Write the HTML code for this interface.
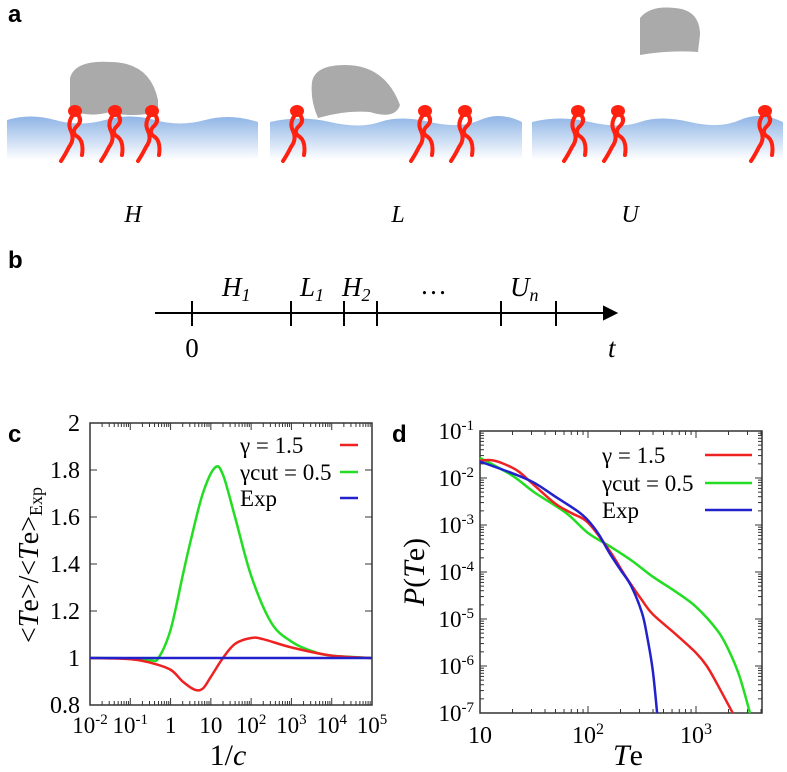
<!DOCTYPE html>
<html><head><meta charset="utf-8"><style>
body{margin:0;background:#fff;}
svg{display:block;font-family:"Liberation Serif",serif;}
.lab{font-family:"Liberation Sans",sans-serif;font-weight:bold;font-size:24px;}
</style></head><body>
<svg id="fig" width="787" height="772" viewBox="0 0 787 772">
<defs>
<linearGradient id="mem" x1="0" y1="0" x2="0" y2="1">
<stop offset="0" stop-color="#8fb5e6"/><stop offset="1" stop-color="#ffffff"/></linearGradient>
</defs>
<text class="lab" x="8" y="22">a</text>
<g>
<path d="M7,120 Q30,113 55,120 T105,120 T155,120 T205,120 T258,122 L258,160 L7,160Z" fill="url(#mem)"/>
<path d="M70,78 Q75,60 110,62 Q150,62 158,100 L158,112 Q130,118 110,112 Q90,118 70,110Z" fill="#aaa"/>
</g>
<g>
<path d="M270,122 Q300,115 330,122 T380,122 T430,122 T480,120 T522,122 L522,160 L270,160Z" fill="url(#mem)"/>
<path d="M312,82 Q315,65 345,65 Q385,65 400,105 Q395,120 370,112 Q345,110 318,118 Q310,100 312,82Z" fill="#aaa"/>
</g>
<g>
<path d="M532,122 Q560,115 590,122 T640,122 T690,122 T740,120 T783,122 L783,160 L532,160Z" fill="url(#mem)"/>
<path d="M640,18 Q650,5 675,8 Q700,10 700,35 L698,52 Q670,50 640,55Z" fill="#aaa"/>
</g>
<g id="lipids" fill="none" stroke="#f21" stroke-width="4" stroke-linecap="round"></g>
<text x="133" y="222" font-size="24" font-style="italic" text-anchor="middle">H</text>
<text x="398" y="222" font-size="24" font-style="italic" text-anchor="middle">L</text>
<text x="630" y="222" font-size="24" font-style="italic" text-anchor="middle">U</text>

<text class="lab" x="8" y="268">b</text>
<g stroke="#000" stroke-width="2">
<line x1="155" y1="313" x2="608" y2="313"/>
<polygon points="616,313 604,307 604,319" fill="#000"/>
<line x1="192" y1="301" x2="192" y2="326"/><line x1="291" y1="301" x2="291" y2="326"/>
<line x1="344" y1="301" x2="344" y2="326"/><line x1="377" y1="301" x2="377" y2="326"/>
<line x1="501" y1="301" x2="501" y2="326"/><line x1="556" y1="301" x2="556" y2="326"/>
</g>
<g font-size="27" font-style="italic">
<text x="222" y="296">H<tspan font-size="18" dy="5">1</tspan></text>
<text x="300" y="296">L<tspan font-size="18" dy="5">1</tspan></text>
<text x="342" y="296">H<tspan font-size="18" dy="5">2</tspan></text>
<text x="420" y="294" font-style="normal">…</text>
<text x="510" y="296">U<tspan font-size="18" dy="5">n</tspan></text>
<text x="192" y="357" font-style="normal" text-anchor="middle">0</text>
<text x="608" y="357">t</text>
</g>
<text class="lab" x="8" y="442">c</text>
<text class="lab" x="392" y="442">d</text>
<g id="pc"></g>
<g id="pd"></g>
</svg>
<script>
// Panel c data (x = log10(1/c))
const cGreenX=[-2,-1,-0.5,-0.3,0,0.3,0.5,0.8,1.1,1.3,1.6,2,2.5,3,3.5,4,5];
const cGreenY=[1,0.998,0.99,1.0,1.12,1.35,1.5,1.7,1.81,1.78,1.6,1.35,1.15,1.07,1.03,1.01,1.0];
const cRedX=[-2,-1,-0.5,0,0.3,0.6,0.8,1,1.3,1.6,2,2.3,3,4,5];
const cRedY=[1,0.995,0.98,0.95,0.9,0.865,0.87,0.92,1.0,1.06,1.085,1.08,1.045,1.01,1.0];
const cExpX=[-2,5];
const cExpY=[1,1];
const cYTicks=[0.8,1,1.2,1.4,1.6,1.8,2];
const cYTickLabels=["0.8","1","1.2","1.4","1.6","1.8","2"];
const cXTicks=[-2,-1,0,1,2,3,4,5];
// Panel d data (log10 Te, log10 P)
const dRedX=[1,1.1,1.2,1.35,1.5,1.7,1.85,2.0,2.2,2.35,2.5,2.6,2.8,3.0,3.1,3.2,3.34];
const dRedY=[-1.63,-1.62,-1.68,-1.85,-2.15,-2.55,-2.75,-2.95,-3.55,-4.1,-4.6,-4.9,-5.3,-5.72,-6.0,-6.4,-7];
const dGreenX=[1,1.3,1.5,1.8,2.0,2.2,2.4,2.6,2.8,3.0,3.2,3.3,3.4,3.5];
const dGreenY=[-1.57,-1.95,-2.3,-2.75,-3.17,-3.45,-3.75,-4.1,-4.4,-4.74,-5.25,-5.65,-6.2,-7];
const dBlueX=[1,1.3,1.5,1.7,1.9,2.0,2.1,2.2,2.3,2.4,2.5,2.55,2.6,2.64];
const dBlueY=[-1.65,-1.9,-2.1,-2.4,-2.7,-2.9,-3.2,-3.6,-3.95,-4.3,-4.87,-5.4,-6.1,-7];
const dYTicks=[-1,-2,-3,-4,-5,-6,-7];
const dXTicks=[1,2,3];

const NS="http://www.w3.org/2000/svg";
function mk(parent,tag,attrs,text){const e=document.createElementNS(NS,tag);for(const k in attrs)e.setAttribute(k,attrs[k]);if(text!==undefined)e.textContent=text;parent.appendChild(e);return e;}

// lipids
const LP=document.getElementById('lipids');
[75,115,152,297,425,465,578,618,765].forEach(function(x){
  const g=mk(LP,'g',{});
  
  
  mk(g,'ellipse',{cx:x,cy:111,rx:7,ry:6,fill:'#f21',stroke:'none'});
  mk(g,'path',{d:`M${x-2},115 q-6,8 -2,16 q4,8 -2,16 q-4,8 -8,14`});
  mk(g,'path',{d:`M${x+3},115 q5,6 -2,12 q-5,6 2,10 q6,5 4,18`});
});

function axes(g,L,R,T,B){
  mk(g,'rect',{x:L,y:T,width:R-L,height:B-T,fill:'none',stroke:'#333','stroke-width':1.5});
}
function smooth(pts){
  let d='M'+pts[0][0]+','+pts[0][1];
  for(let i=0;i<pts.length-1;i++){
    const p0=pts[i-1]||pts[i],p1=pts[i],p2=pts[i+1],p3=pts[i+2]||p2;
    const c1=[p1[0]+(p2[0]-p0[0])/6,p1[1]+(p2[1]-p0[1])/6];
    const c2=[p2[0]-(p3[0]-p1[0])/6,p2[1]-(p3[1]-p1[1])/6];
    d+=` C${c1[0]},${c1[1]} ${c2[0]},${c2[1]} ${p2[0]},${p2[1]}`;
  }
  return d;
}
function poly(g,xs,ys,fx,fy,color,name){
  const p=mk(g,'path',{d:smooth(xs.map((x,i)=>[fx(x),fy(ys[i])])),fill:'none',stroke:color,'stroke-width':2.5,'stroke-linejoin':'round'});
  
  
}
// chart c
(function(){
  const g=document.getElementById('pc');
  const L=90,R=372,T=423,B=705;
  const fx=v=>L+(v+2)/7*(R-L), fy=v=>B-(v-0.8)/1.2*(B-T);
  axes(g,L,R,T,B);
  cYTicks.forEach((t,i)=>{
    mk(g,'line',{x1:L,y1:fy(t),x2:L+7,y2:fy(t),stroke:'#333'});
    mk(g,'line',{x1:R,y1:fy(t),x2:R-7,y2:fy(t),stroke:'#333'});
    const tx=mk(g,'text',{x:L-10,y:fy(t)+8,'font-size':24,'text-anchor':'end'},cYTickLabels[i]);
    
    
  });
  cXTicks.forEach(t=>{
    mk(g,'line',{x1:fx(t),y1:B,x2:fx(t),y2:B-7,stroke:'#333'});
    mk(g,'line',{x1:fx(t),y1:T,x2:fx(t),y2:T+7,stroke:'#333'});
    for(let k=2;k<10&&t<5;k++){const x=fx(t+Math.log10(k));mk(g,'line',{x1:x,y1:B,x2:x,y2:B-4,stroke:'#333'});mk(g,'line',{x1:x,y1:T,x2:x,y2:T+4,stroke:'#333'});}
    const tx=mk(g,'text',{x:fx(t),y:B+28,'font-size':23,'text-anchor':'middle'});
    if(t===0)tx.textContent='1';else if(t===1)tx.textContent='10';else{tx.textContent='10';mk(tx,'tspan',{dy:-9,'font-size':15},String(t));}
    
    
  });
  poly(g,cGreenX,cGreenY,fx,fy,'#2d2','series-gamma-cut');
  poly(g,cRedX,cRedY,fx,fy,'#e22','series-gamma');
  poly(g,cExpX,cExpY,fx,fy,'#22c','series-exp');
  const t1=mk(g,'text',{x:228,y:765,'font-size':30,'text-anchor':'middle'},'1/');
  mk(t1,'tspan',{'font-style':'italic'},'c');
  
  
  const t2=mk(g,'text',{transform:'translate(38,565) rotate(-90)','font-size':28,'text-anchor':'middle'},'<');
  mk(t2,'tspan',{'font-style':'italic'},'T');mk(t2,'tspan',{},'e>/<');mk(t2,'tspan',{'font-style':'italic'},'T');mk(t2,'tspan',{},'e>');mk(t2,'tspan',{'font-size':18,dy:4},'Exp');
  
  
  [['γ = 1.5','#e22',445],['γcut = 0.5','#2d2',472],['Exp','#22c',498]].forEach(r=>{
    const e=mk(g,'text',{x:240,y:r[2]+8,'font-size':23},r[0]);
    
    
    mk(g,'line',{x1:340,y1:r[2],x2:358,y2:r[2],stroke:r[1],'stroke-width':2.5});
  });
})();
// chart d
(function(){
  const g=document.getElementById('pd');
  const L=480,R=762,T=431,B=713;
  const fx=v=>L+(v-1)*108, fy=v=>T+(-1-v)*47;
  axes(g,L,R,T,B);
  dYTicks.forEach(t=>{
    mk(g,'line',{x1:L,y1:fy(t),x2:L+7,y2:fy(t),stroke:'#333'});
    mk(g,'line',{x1:R,y1:fy(t),x2:R-7,y2:fy(t),stroke:'#333'});
    for(let k=2;k<10&&t>-7;k++){const y=fy(t-1+Math.log10(k));mk(g,'line',{x1:L,y1:y,x2:L+4,y2:y,stroke:'#333'});mk(g,'line',{x1:R,y1:y,x2:R-4,y2:y,stroke:'#333'});}
    const tx=mk(g,'text',{x:L-6,y:fy(t)+8,'font-size':23,'text-anchor':'end'},'10');
    mk(tx,'tspan',{dy:-9,'font-size':15},String(t));
    
    
  });
  dXTicks.forEach(t=>{
    for(let k=1;k<10;k++){const v=t+Math.log10(k);if(fx(v)>R)break;const h=k===1?7:4;mk(g,'line',{x1:fx(v),y1:B,x2:fx(v),y2:B-h,stroke:'#333'});mk(g,'line',{x1:fx(v),y1:T,x2:fx(v),y2:T+h,stroke:'#333'});}
    const tx=mk(g,'text',{x:fx(t),y:B+30,'font-size':24,'text-anchor':'middle'},'10');
    if(t>1)mk(tx,'tspan',{dy:-9,'font-size':16},String(t));
    
    
  });
  poly(g,dGreenX,dGreenY,fx,fy,'#2d2','series-gamma-cut');
  poly(g,dRedX,dRedY,fx,fy,'#e22','series-gamma');
  poly(g,dBlueX,dBlueY,fx,fy,'#22c','series-exp');
  const t1=mk(g,'text',{x:628,y:765,'font-size':30,'text-anchor':'middle'});
  mk(t1,'tspan',{'font-style':'italic'},'T');mk(t1,'tspan',{},'e');
  
  
  const t2=mk(g,'text',{transform:'translate(424,572) rotate(-90)','font-size':30,'text-anchor':'middle'});
  mk(t2,'tspan',{'font-style':'italic'},'P');mk(t2,'tspan',{},'(');mk(t2,'tspan',{'font-style':'italic'},'T');mk(t2,'tspan',{},'e)');
  
  
  [['γ = 1.5','#e22',455],['γcut = 0.5','#2d2',483],['Exp','#22c',510]].forEach(r=>{
    const e=mk(g,'text',{x:602,y:r[2]+8,'font-size':23},r[0]);
    
    
    mk(g,'line',{x1:705,y1:r[2],x2:752,y2:r[2],stroke:r[1],'stroke-width':2.5});
  });
})();
</script>
</body></html>
